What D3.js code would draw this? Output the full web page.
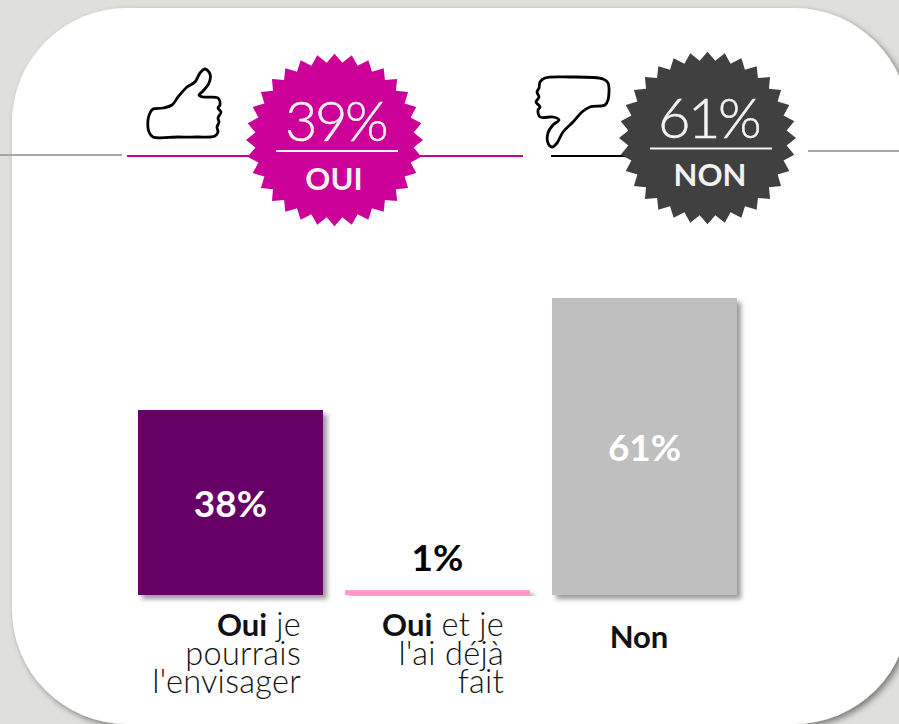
<!DOCTYPE html>
<html>
<head>
<meta charset="utf-8">
<script src="https://cdnjs.cloudflare.com/ajax/libs/d3/7.8.5/d3.min.js"></script>
<style>
html, body { margin: 0; padding: 0; background: #dfe0db; overflow: hidden; }
text { font-family: Lato, "Open Sans", sans-serif; }
</style>
</head>
<body>
<svg id="chart" width="899" height="724"></svg>
<script>
// bars
var categories = ["Oui je pourrais l'envisager", "Oui et je l'ai déjà fait", "Non"];
var values = [38, 1, 61];
var valueLabels = ["38%", "1%", "61%"];
var barColors = ["#660066", "#ff99cc", "#bfbfbf"];
var labelColors = ["#ffffff", "#000000", "#ffffff"];

// wrapped axis labels : [bold part, normal part] for each line
var catLines = [
  [["Oui", " je"], ["", "pourrais"], ["", "l'envisager"]],
  [["Oui", " et je"], ["", "l'ai déjà"], ["", "fait"]],
  [["Non", ""]]
];

// badges
var badgeTotals = ["39%", "61%"];
var badgeNames = ["OUI", "NON"];

var width = 899, height = 724;
var svg = d3.select("#chart");
var defs = svg.append("defs");

function addShadow(id, dx, dy, blur, op) {
  var f = defs.append("filter").attr("id", id)
    .attr("x", "-10%").attr("y", "-10%").attr("width", "125%").attr("height", "125%");
  f.append("feDropShadow")
    .attr("dx", dx).attr("dy", dy).attr("stdDeviation", blur)
    .attr("flood-color", "#000").attr("flood-opacity", op);
}
addShadow("cardShadow", 3, 3, 3, 0.45);
addShadow("barShadow", 4, 4, 2.5, 0.4);

// white card
svg.append("rect")
  .attr("x", 12).attr("y", 8)
  .attr("width", 897).attr("height", 716)
  .attr("rx", 115).attr("ry", 115)
  .attr("fill", "#fff")
  .attr("filter", "url(#cardShadow)");

// scales
var x = d3.scaleBand().domain(categories).range([138, 737]).paddingInner(0.1063).paddingOuter(0);
var y = d3.scaleLinear().domain([0, 61]).range([595, 298]);

svg.selectAll(".bar")
  .data(categories)
  .enter().append("rect")
  .attr("class", "bar")
  .attr("x", d => x(d))
  .attr("y", (d, i) => y(values[i]))
  .attr("width", x.bandwidth())
  .attr("height", (d, i) => y(0) - y(values[i]))
  .attr("fill", (d, i) => barColors[i])
  .attr("filter", "url(#barShadow)");

// value labels, inside the bar unless it is too small
svg.selectAll(".val")
  .data(categories)
  .enter().append("text")
  .attr("class", "val")
  .attr("x", d => x(d) + x.bandwidth() / 2)
  .attr("y", (d, i) => values[i] > 5 ? y(values[i] / 2) + 14.5 : y(values[i]) - 19)
  .attr("text-anchor", "middle")
  .attr("font-size", 37)
  .attr("font-weight", 700)
  .attr("fill", (d, i) => labelColors[i])
  .text((d, i) => valueLabels[i]);

// category labels
var lineGap = 28.5;
var labelRight = [301, 504];
categories.forEach(function(c, i) {
  var lines = catLines[i];
  lines.forEach(function(l, j) {
    var single = lines.length == 1;
    var t = svg.append("text")
      .attr("class", "cat")
      .attr("x", single ? 639 : labelRight[i])
      .attr("y", single ? 648 : 636 + j * lineGap)
      .attr("text-anchor", single ? "middle" : "end")
      .attr("fill", "#111");
    if (l[0]) t.append("tspan").attr("font-weight", 700).attr("font-size", 31).text(l[0]);
    if (l[1]) t.append("tspan").attr("font-weight", 300).attr("font-size", 32.5).attr("letter-spacing", 0.3).attr("xml:space", "preserve").text(l[1]);
  });
});

// rules behind the badges
var rules = [
  { x1: 0, x2: 122, y: 155, c: "#a6a6a6" },
  { x1: 127, x2: 250, y: 156, c: "#cc0099" },
  { x1: 418, x2: 523, y: 156, c: "#cc0099" },
  { x1: 551, x2: 625, y: 156, c: "#000000" },
  { x1: 808, x2: 899, y: 151, c: "#a6a6a6" }
];
svg.selectAll(".rule").data(rules).enter().append("line")
  .attr("class", "rule")
  .attr("x1", d => d.x1).attr("x2", d => d.x2)
  .attr("y1", d => d.y).attr("y2", d => d.y)
  .attr("stroke", d => d.c).attr("stroke-width", 1.8);

// starburst badge
var nbTeeth = 32;
var radial = d3.lineRadial().curve(d3.curveLinearClosed);
function burst(R, r) {
  var pts = [];
  for (var i = 0; i < nbTeeth * 2; i++) {
    pts.push([i * Math.PI / nbTeeth, i % 2 == 0 ? R : r]);
  }
  return radial(pts);
}

var badges = [
  { cx: 334.5, cy: 140, color: "#cc0099", lineY: 151, lineX: [276, 398], numX: 335.5, numY: 141, nameY: 190, tx: 334 },
  { cx: 707.5, cy: 138, color: "#404040", lineY: 148.5, lineX: [650, 772], numX: 708.5, numY: 138, nameY: 186, tx: 710 }
];
badges.forEach(function(b, i) {
  var g = svg.append("g");
  g.append("path")
    .attr("d", burst(88.5, 79.5))
    .attr("transform", "translate(" + b.cx + "," + b.cy + ") scale(1,0.975)")
    .attr("fill", b.color);
  g.append("text").attr("x", b.numX).attr("y", b.numY)
    .attr("text-anchor", "middle").attr("font-size", 56).attr("font-weight", 300)
    .attr("letter-spacing", -2.5)
    .attr("stroke", "#f2f2f2").attr("stroke-width", 0.5)
    .attr("fill", "#f2f2f2").text(badgeTotals[i]);
  g.append("line")
    .attr("x1", b.lineX[0]).attr("x2", b.lineX[1])
    .attr("y1", b.lineY).attr("y2", b.lineY)
    .attr("stroke", "#f2f2f2").attr("stroke-width", 1.8);
  g.append("text").attr("x", b.tx).attr("y", b.nameY)
    .attr("text-anchor", "middle").attr("font-size", 31).attr("font-weight", 700)
    .attr("fill", "#f2f2f2").text(badgeNames[i]);
});

// hand drawn thumbs
var thumbUp = [[150,113],[153,109],[163,108],[172,105],[178,97],[187,87],[195,82],[200,73],[205,69],[210,74],[209,83],[203,91],[199,95],[203,97],[218,98],[220,105],[218,108],[221,112],[218,118],[219,122],[217,127],[218,132],[215,136],[197,137],[178,137],[153,137],[149,132],[148,120]];
var thumbDown = [[540,82],[545,78],[570,77],[603,79],[608,83],[608,100],[605,105],[590,107],[582,112],[573,122],[563,132],[557,143],[552,147],[548,143],[548,133],[553,125],[559,120],[553,117],[540,117],[538,110],[540,107],[536,102],[539,97],[537,92],[539,88]];
var thumbLine = d3.line().curve(d3.curveCatmullRomClosed.alpha(0.5));
[thumbUp, thumbDown].forEach(function(p) {
  svg.append("path")
    .attr("d", thumbLine(p))
    .attr("fill", "#fff")
    .attr("stroke", "#000")
    .attr("stroke-width", 2.8)
    .attr("stroke-linejoin", "round");
});
</script>
</body>
</html>
